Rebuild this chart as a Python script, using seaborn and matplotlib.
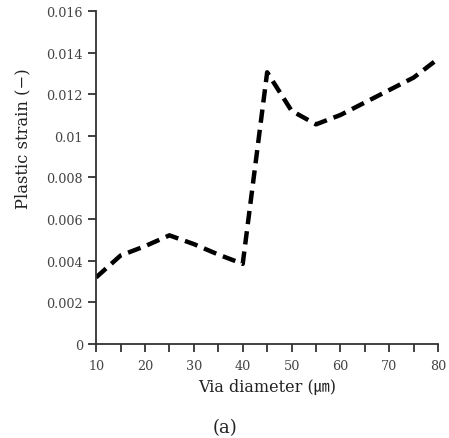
import matplotlib
matplotlib.use("Agg")
import matplotlib.pyplot as plt
import seaborn as sns
import pandas as pd

via_diameter = [10, 15, 20, 25, 30, 35, 40, 45, 50, 55, 60, 65, 70, 75, 80]
plastic_strain = [0.0032, 0.00425, 0.0047, 0.00522, 0.0048, 0.0043, 0.00385,
                  0.01305, 0.0112, 0.01055, 0.0110, 0.0116, 0.0122, 0.0128, 0.0137]
x_ticks = [10, 20, 30, 40, 50, 60, 70, 80]
y_ticks = [0, 0.002, 0.004, 0.006, 0.008, 0.01, 0.012, 0.014, 0.016]
y_tick_labels = ["0", "0.002", "0.004", "0.006", "0.008", "0.01", "0.012", "0.014", "0.016"]

sns.set_style("white")
plt.rcParams['font.family'] = ['DejaVu Serif', 'Noto Sans CJK KR', 'DejaVu Sans']

df = pd.DataFrame({"x": via_diameter, "y": plastic_strain})

fig = plt.figure(figsize=(4.49, 4.39), dpi=100)
ax = fig.add_axes([0.214, 0.214, 0.762, 0.759])
sns.lineplot(data=df, x="x", y="y", ax=ax, color="black", linewidth=3.2,
             linestyle=(0, (3.0, 1.6)))

ax.set_xlim(10, 80)
ax.set_ylim(0, 0.016)
ax.set_xticks(x_ticks)
ax.set_xticks(range(15, 80, 10), minor=True)
ax.set_yticks(y_ticks)
ax.set_yticklabels(y_tick_labels)

for s in ["top", "right"]:
    ax.spines[s].set_visible(False)
for s in ["left", "bottom"]:
    ax.spines[s].set_color("#333333")
    ax.spines[s].set_linewidth(1.3)

ax.tick_params(axis="both", which="both", direction="out", length=6, width=1.3,
               color="#333333", labelsize=9.2, labelcolor="#444444", left=True, bottom=True)
ax.tick_params(axis="x", pad=5)

ax.set_xlabel("Via diameter (㎛)", fontsize=11.5, color="#222222", labelpad=4)
ax.set_ylabel("Plastic strain (−)", fontsize=11.8, color="#222222")
ax.yaxis.set_label_coords(-0.19, 0.62)

fig.text(0.5, 0.005, "(a)", ha="center", va="bottom", fontsize=13, color="#222222")

fig.savefig("out.png", dpi=100, facecolor="white")
